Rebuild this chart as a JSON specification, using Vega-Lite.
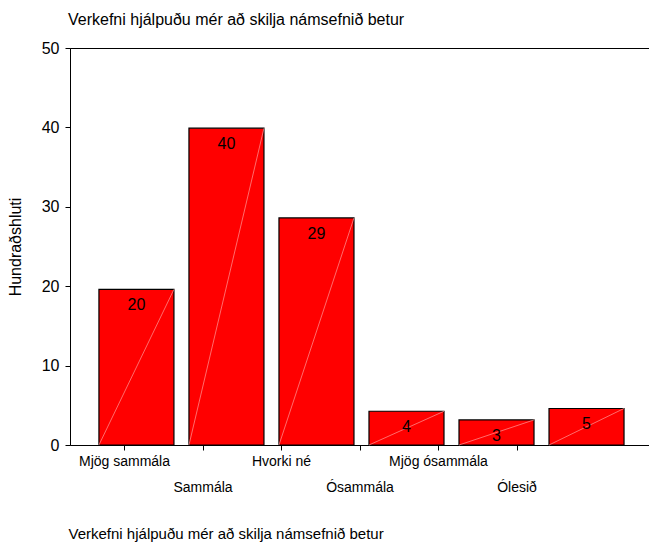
{
  "$schema": "https://vega.github.io/schema/vega-lite/v6.json",
  "width": 580,
  "height": 397,
  "autosize": "none",
  "padding": {"left": 70, "top": 48, "right": 0, "bottom": 98},
  "background": "white",
  "config": {
    "font": "Liberation Sans",
    "view": {"stroke": "black", "strokeWidth": 1},
    "axis": {"domainColor": "black", "tickColor": "black", "labelColor": "black", "titleColor": "black", "grid": false, "titleFontWeight": "normal"}
  },
  "title": {"text": "Verkefni hjálpuðu mér að skilja námsefnið betur", "anchor": "start", "frame": "group", "fontSize": 16, "fontWeight": "normal", "color": "black", "offset": 12, "dx": -2},
  "data": {"values": [
    {"svar": "Mjög sammála", "hlutfall": 19.6},
    {"svar": "Sammála", "hlutfall": 39.9},
    {"svar": "Hvorki né", "hlutfall": 28.6},
    {"svar": "Ósammála", "hlutfall": 4.25},
    {"svar": "Mjög ósammála", "hlutfall": 3.16},
    {"svar": "Ólesið", "hlutfall": 4.6}
  ]},
  "layer": [
    {
      "mark": {"type": "bar", "fill": "#ff0000", "stroke": "black", "strokeWidth": 1.2},
      "encoding": {
        "x": {"field": "svar", "type": "nominal", "scale": {"type": "band", "domain": ["Mjög sammála", "Sammála", "Hvorki né", "Ósammála", "Mjög ósammála", "Ólesið"], "paddingInner": 0.1667, "paddingOuter": 0.305, "align": 0.527}, "axis": null},
        "y": {"field": "hlutfall", "type": "quantitative", "scale": {"domain": [0, 50]}, "axis": {"values": [0, 10, 20, 30, 40, 50], "labelFontSize": 16, "tickSize": 5, "labelPadding": 6, "title": "Hundraðshluti", "titleFontSize": 16, "titleAngle": -90, "titleX": -55, "titleY": 198.5, "titleAlign": "center", "titleBaseline": "middle"}}
      }
    },
    {
      "mark": {"type": "rule", "color": "#ff9a9a", "strokeWidth": 0.7},
      "encoding": {
        "x": {"field": "svar", "type": "nominal", "bandPosition": 1, "scale": {"type": "band", "domain": ["Mjög sammála", "Sammála", "Hvorki né", "Ósammála", "Mjög ósammála", "Ólesið"], "paddingInner": 0.1667, "paddingOuter": 0.305, "align": 0.527}, "axis": null},
        "x2": {"field": "svar", "bandPosition": 0},
        "y": {"field": "hlutfall", "type": "quantitative"},
        "y2": {"datum": 0}
      }
    },
    {
      "mark": {"type": "text", "fontSize": 16, "baseline": "middle", "dy": 16, "color": "black"},
      "encoding": {
        "x": {"field": "svar", "type": "nominal", "scale": {"type": "band", "domain": ["Mjög sammála", "Sammála", "Hvorki né", "Ósammála", "Mjög ósammála", "Ólesið"], "paddingInner": 0.1667, "paddingOuter": 0.305, "align": 0.527}, "axis": null},
        "y": {"field": "hlutfall", "type": "quantitative"},
        "text": {"field": "hlutfall", "type": "quantitative", "format": ".0f"}
      }
    },
    {
      "mark": {"type": "point", "opacity": 0},
      "encoding": {
        "x": {"field": "svar", "type": "nominal", "scale": {"type": "point", "domain": ["Mjög sammála", "Sammála", "Hvorki né", "Ósammála", "Mjög ósammála", "Ólesið"], "padding": 0, "range": [54, 446.5]},
          "axis": {"orient": "bottom", "domain": false, "labelFontSize": 14, "tickSize": 5, "labelPadding": 4, "labelAngle": 0, "labelBaseline": "top", "labelLineHeight": 26,
            "labelExpr": "indexof(['Sammála','Ósammála','Ólesið'], datum.label) >= 0 ? ['', datum.label] : datum.label",
            "title": "Verkefni hjálpuðu mér að skilja námsefnið betur", "titleFontSize": 15, "titleX": -2, "titleY": 88, "titleAlign": "left", "titleBaseline": "middle", "titleAnchor": "start"}}
      }
    }
  ],
  "resolve": {"scale": {"x": "independent"}, "axis": {"x": "independent"}}
}
